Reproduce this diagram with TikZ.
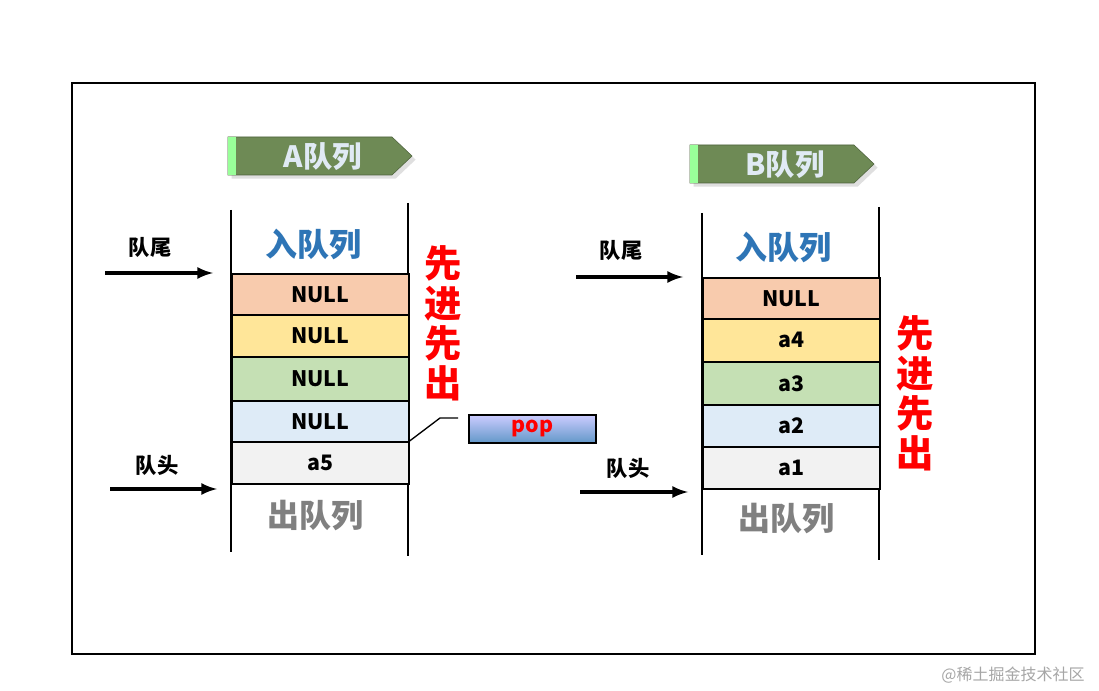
\documentclass[tikz,border=0pt]{standalone}
\usepackage{fontspec}
\setmainfont{Noto Sans CJK SC}
\newfontfamily\cjk{Noto Sans CJK SC}
\usetikzlibrary{shadows}
\definecolor{cOr}{HTML}{F8CBAD}
\definecolor{cYe}{HTML}{FFE699}
\definecolor{cGr}{HTML}{C5E0B4}
\definecolor{cBl}{HTML}{DEEBF7}
\definecolor{cGy}{HTML}{F2F2F2}
\definecolor{cBlue}{HTML}{2E75B6}
\definecolor{cBan}{HTML}{6E8A55}
\begin{document}
\begin{tikzpicture}[x=0.75pt,y=-0.75pt,
  cell/.style={draw=black,line width=1.2pt,minimum width=177*0.75pt,minimum height=42*0.75pt,inner sep=0pt,font=\bfseries\fontsize{16}{16}\selectfont,anchor=north west},
  arr/.style={-latex,line width=3pt},
  lab/.style={font=\bfseries\fontsize{16}{16}\selectfont},
  big/.style={font=\bfseries\fontsize{24}{24}\selectfont},
  vert/.style={text=red,font=\bfseries\fontsize{28}{30}\selectfont,align=center,inner sep=0pt},
  banner/.style={fill=cBan,draw=cBan!70!black,drop shadow={opacity=0.25}},
  bantext/.style={text=white!85!cBlue,font=\bfseries\fontsize{22}{22}\selectfont}]
\useasboundingbox (0,0) rectangle (1099,691);
\fill[white] (0,0) rectangle (1099,691);
\draw[line width=1.6pt] (72,83) rectangle (1035,654);
% banners
\path[banner] (228,137) -- (392,137) -- (412,156) -- (392,175) -- (228,175) -- cycle;
\fill[green!40!white] (228,137) rectangle (236,175);
\node[bantext] (ta) at (323,157) {A队列};
\path[banner] (690,145) -- (854,145) -- (874,164) -- (854,183) -- (690,183) -- cycle;
\fill[green!40!white] (690,145) rectangle (698,183);
\node[bantext] (tb) at (785,165) {B队列};
% A queue
\draw[line width=1.2pt] (231,210) -- (231,552);
\draw[line width=1.2pt] (408,203) -- (408,556);
\node[cell,fill=cOr,minimum height=41*0.75pt] (a1) at (231,273) {NULL};
\node[cell,fill=cYe] (a2) at (231,314) {NULL};
\node[cell,fill=cGr,minimum height=44*0.75pt] (a3) at (231,356) {NULL};
\node[cell,fill=cBl,minimum height=41*0.75pt] (a4) at (231,400) {NULL};
\node[cell,fill=cGy] (a5) at (231,441) {a5};
\node[big,text=cBlue] (ain) at (313,244) {入队列};
\node[big,text=gray] (aout) at (315,516) {出队列};
\node[lab] (atl) at (150,247) {队尾};
\coordinate (ats) at (105,273);
\draw[arr] (ats) -- (213,273);
\node[lab] (ahl) at (157,465) {队头};
\coordinate (ahs) at (110,489);
\draw[arr] (ahs) -- (217,489);
\node[vert] (afifo) at (443,323) {先\\进\\先\\出};
% pop
\node[draw=black,line width=1.4pt,top color=blue!20!white,bottom color=cBlue!75,minimum width=127*0.75pt,minimum height=28*0.75pt,inner sep=0pt,text=red,font=\bfseries\fontsize{16}{16}\selectfont,anchor=north west] (pop) at (468,414) {pop};
\coordinate (pk) at (440,418);
\coordinate (pe) at (458,418);
\draw[line width=1pt] (a5.north east) -- (pk) -- (pe);
% B queue
\draw[line width=1.2pt] (702,213) -- (702,555);
\draw[line width=1.2pt] (879,207) -- (879,560);
\node[cell,fill=cOr,minimum height=41*0.75pt] (b1) at (702,277) {NULL};
\node[cell,fill=cYe,minimum height=43*0.75pt] (b2) at (702,318) {a4};
\node[cell,fill=cGr,minimum height=43*0.75pt] (b3) at (702,361) {a3};
\node[cell,fill=cBl] (b4) at (702,404) {a2};
\node[cell,fill=cGy] (b5) at (702,446) {a1};
\node[big,text=cBlue] (bin) at (783,247) {入队列};
\node[big,text=gray] (bout) at (786,519) {出队列};
\node[lab] (btl) at (621,250) {队尾};
\coordinate (bts) at (576,277);
\draw[arr] (bts) -- (683,277);
\node[lab] (bhl) at (628,468) {队头};
\coordinate (bhs) at (580,492);
\draw[arr] (bhs) -- (688,492);
\node[vert] (bfifo) at (915,393) {先\\进\\先\\出};
\node[text=gray!70,font=\fontsize{12}{12}\selectfont] (wm) at (1013,675) {@稀土掘金技术社区};
\end{tikzpicture}
\end{document}
